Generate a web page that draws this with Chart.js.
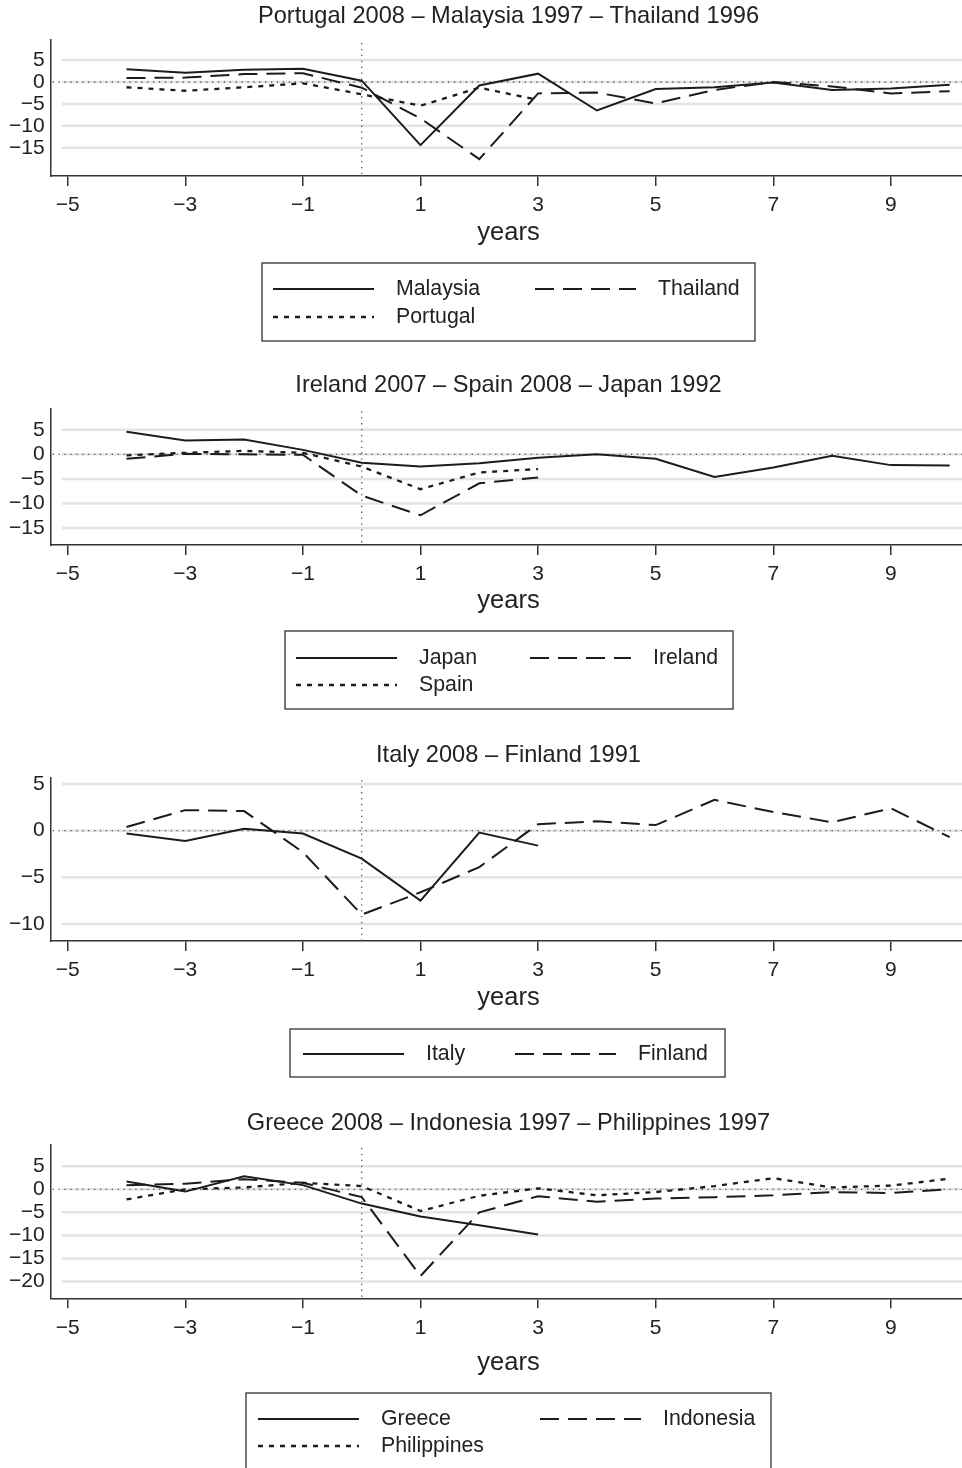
<!DOCTYPE html>
<html>
<head>
<meta charset="utf-8">
<script src="https://cdn.jsdelivr.net/npm/chart.js@4.4.1/dist/chart.umd.min.js"></script>
<style>
  html, body { margin: 0; padding: 0; background: #fff; overflow: hidden; }
  #wrap { position: relative; width: 962px; height: 1468px; }
  .panel { position: absolute; left: 0; }
</style>
</head>
<body>
<div id="wrap"></div>
<script>
// ---- data ----
const years = [-4, -3, -2, -1, 0, 1, 2, 3, 4, 5, 6, 7, 8, 9, 10];
const xTicks = [-5, -3, -1, 1, 3, 5, 7, 9];

// panel 1
const malaysia = [2.9, 2.1, 2.8, 3.0, 0.3, -14.4, -0.8, 1.9, -6.5, -1.6, -1.2, -0.1, -1.8, -1.5, -0.6];
const thailand = [0.9, 1.0, 1.8, 2.0, -1.3, -8.3, -17.6, -2.6, -2.4, -4.9, -1.8, 0.0, -1.0, -2.6, -2.1];
const portugal = [-1.2, -2.0, -1.2, -0.3, -2.8, -5.4, -1.3, -4.1];
const yTicks1 = [-15, -10, -5, 0, 5];

// panel 2
const japan = [4.6, 2.8, 3.0, 0.9, -1.7, -2.5, -1.8, -0.7, 0.0, -0.9, -4.6, -2.7, -0.3, -2.2, -2.3];
const ireland = [-0.9, 0.1, 0.0, -0.1, -8.4, -12.4, -5.9, -4.7];
const spain = [-0.2, 0.3, 0.7, 0.3, -2.5, -7.1, -3.7, -3.0];
const yTicks2 = [-15, -10, -5, 0, 5];

// panel 3
const italy = [-0.3, -1.1, 0.2, -0.3, -3.0, -7.5, -0.2, -1.6];
const finland = [0.4, 2.2, 2.1, -2.3, -9.0, -6.6, -3.9, 0.7, 1.0, 0.6, 3.3, 2.0, 0.9, 2.4, -0.7];
const yTicks3 = [-10, -5, 0, 5];

// panel 4
const greece = [1.7, -0.5, 2.8, 0.9, -3.1, -5.9, -7.8, -9.8];
const indonesia = [0.9, 1.2, 2.2, 1.4, -1.7, -18.8, -5.0, -1.5, -2.7, -2.0, -1.7, -1.3, -0.6, -0.8, 0.0];
const philippines = [-2.2, 0.0, 0.4, 1.4, 0.7, -4.7, -1.4, 0.2, -1.3, -0.6, 0.7, 2.4, 0.4, 0.8, 2.3];
const yTicks4 = [-20, -15, -10, -5, 0, 5];

// ---- styles ----
const FONT = '"Liberation Sans", Arial, Helvetica, sans-serif';
const INK = '#1c1c1c';
const SOLID = [];
const DASH = [19, 9];
const DOT = [5, 6];

const toPts = arr => arr.map((v, i) => ({ x: years[i], y: v }));
const fmt = v => (v < 0 ? '\u2212' + Math.abs(v) : String(v));

const X_MIN = -5.289, X_MAX = 10.209;
const Y_AXIS_W = 50.7, X_AXIS_H = 42;
const CENTER_X = 508.5;

const panels = [
  {
    top: 0, height: 362, plotTop: 40, plotBottom: 176, yMin: -21.44, yMax: 9.58, yTicks: yTicks1,
    title: 'Portugal 2008 \u2013 Malaysia 1997 \u2013 Thailand 1996', titleY: 16, yearsY: 233,
    legend: { box: [262, 263, 755, 341], rows: [289, 317], cols: [273, 535] },
    series: [['Malaysia', malaysia, SOLID], ['Thailand', thailand, DASH], ['Portugal', portugal, DOT]]
  },
  {
    top: 362, height: 370, plotTop: 408.3, plotBottom: 545, yMin: -18.45, yMax: 9.36, yTicks: yTicks2,
    title: 'Ireland 2007 \u2013 Spain 2008 \u2013 Japan 1992', titleY: 385, yearsY: 601,
    legend: { box: [285, 631, 733, 709], rows: [658, 685], cols: [296, 530] },
    series: [['Japan', japan, SOLID], ['Ireland', ireland, DASH], ['Spain', spain, DOT]]
  },
  {
    top: 732, height: 358, plotTop: 777.3, plotBottom: 941, yMin: -11.82, yMax: 5.72, yTicks: yTicks3,
    title: 'Italy 2008 \u2013 Finland 1991', titleY: 755, yearsY: 998,
    legend: { box: [290, 1029, 725, 1077], rows: [1054], cols: [303, 515] },
    series: [['Italy', italy, SOLID], ['Finland', finland, DASH]]
  },
  {
    top: 1090, height: 378, plotTop: 1145, plotBottom: 1298.3, yMin: -23.63, yMax: 9.6, yTicks: yTicks4,
    title: 'Greece 2008 \u2013 Indonesia 1997 \u2013 Philippines 1997', titleY: 1123, yearsY: 1363,
    legend: { box: [246, 1393, 771, 1478], rows: [1419, 1446], cols: [258, 540] },
    series: [['Greece', greece, SOLID], ['Indonesia', indonesia, DASH], ['Philippines', philippines, DOT]]
  }
];

// gridlines, zero reference lines, title, axis label and boxed legend
const stataPlugin = {
  id: 'stata',
  beforeDatasetsDraw(chart, args, opts) {
    const { ctx, chartArea: a, scales: { x, y } } = chart;
    ctx.save();
    ctx.strokeStyle = '#e4e4e4';
    ctx.lineWidth = 2.5;
    opts.yTicks.forEach(v => {
      const py = y.getPixelForValue(v);
      ctx.beginPath(); ctx.moveTo(a.left + 11, py); ctx.lineTo(a.right, py); ctx.stroke();
    });
    ctx.strokeStyle = '#555';
    ctx.lineWidth = 1.3;
    ctx.setLineDash([1.3, 4.6]);
    const y0 = y.getPixelForValue(0);
    ctx.beginPath(); ctx.moveTo(a.left + 2, y0); ctx.lineTo(a.right, y0); ctx.stroke();
    const x0 = x.getPixelForValue(0);
    ctx.beginPath(); ctx.moveTo(x0, a.top + 3); ctx.lineTo(x0, a.bottom); ctx.stroke();
    ctx.restore();
  },
  afterDraw(chart, args, opts) {
    const ctx = chart.ctx;
    const T = opts.top;
    ctx.save();
    ctx.fillStyle = '#222';
    ctx.textAlign = 'center';
    ctx.textBaseline = 'middle';
    ctx.font = '23.6px ' + FONT;
    ctx.fillText(opts.title, CENTER_X, opts.titleY - T);
    ctx.font = '25.5px ' + FONT;
    ctx.fillText('years', CENTER_X, opts.yearsY - T);

    const lg = opts.legend;
    ctx.strokeStyle = '#333';
    ctx.lineWidth = 1.3;
    ctx.setLineDash([]);
    ctx.strokeRect(lg.box[0], lg.box[1] - T, lg.box[2] - lg.box[0], lg.box[3] - lg.box[1]);
    ctx.font = '21.3px ' + FONT;
    ctx.textAlign = 'left';
    chart.data.datasets.forEach((ds, i) => {
      const cx = lg.cols[i % 2];
      const cy = lg.rows[Math.floor(i / 2)] - T;
      ctx.strokeStyle = ds.borderColor;
      ctx.lineWidth = ds.borderWidth;
      ctx.setLineDash(ds.borderDash);
      ctx.beginPath(); ctx.moveTo(cx, cy); ctx.lineTo(cx + 101, cy); ctx.stroke();
      ctx.setLineDash([]);
      ctx.fillText(ds.label, cx + 123, cy);
    });
    ctx.restore();
  }
};

const wrap = document.getElementById('wrap');

panels.forEach(p => {
  const div = document.createElement('div');
  div.className = 'panel';
  div.style.top = p.top + 'px';
  const canvas = document.createElement('canvas');
  canvas.width = 962;
  canvas.height = p.height;
  canvas.style.width = '962px';
  canvas.style.height = p.height + 'px';
  div.appendChild(canvas);
  wrap.appendChild(div);

  new Chart(canvas, {
    type: 'line',
    data: {
      datasets: p.series.map(([label, vals, dash]) => ({
        label: label,
        data: toPts(vals),
        borderColor: INK,
        borderWidth: dash === DOT ? 2.3 : 2,
        borderDash: dash,
        borderCapStyle: 'butt',
        pointRadius: 0,
        tension: 0,
        fill: false
      }))
    },
    options: {
      responsive: false,
      animation: false,
      devicePixelRatio: 1,
      layout: {
        padding: {
          top: p.plotTop - p.top,
          bottom: p.top + p.height - p.plotBottom - X_AXIS_H,
          left: 0,
          right: 0
        }
      },
      scales: {
        x: {
          type: 'linear',
          min: X_MIN,
          max: X_MAX,
          afterBuildTicks: s => { s.ticks = xTicks.map(v => ({ value: v })); },
          afterFit: s => { s.height = X_AXIS_H; },
          border: { display: true, color: '#333', width: 1.5 },
          grid: { display: true, drawOnChartArea: false, drawTicks: true, tickLength: 10, color: '#333', lineWidth: 1.5 },
          ticks: { autoSkip: false, maxRotation: 0, padding: 7, color: '#222', font: { family: FONT, size: 21 }, callback: v => fmt(v) }
        },
        y: {
          type: 'linear',
          min: p.yMin,
          max: p.yMax,
          afterBuildTicks: s => { s.ticks = p.yTicks.map(v => ({ value: v })); },
          afterFit: s => { s.width = Y_AXIS_W; },
          border: { display: true, color: '#333', width: 1.5 },
          grid: { display: false, drawTicks: false },
          ticks: { autoSkip: false, padding: 6, color: '#222', font: { family: FONT, size: 21 }, callback: v => fmt(v) }
        }
      },
      plugins: {
        legend: { display: false },
        title: { display: false },
        tooltip: { enabled: false },
        stata: {
          top: p.top, title: p.title, titleY: p.titleY, yearsY: p.yearsY,
          legend: p.legend, yTicks: p.yTicks
        }
      }
    },
    plugins: [stataPlugin]
  });
});
</script>
</body>
</html>
